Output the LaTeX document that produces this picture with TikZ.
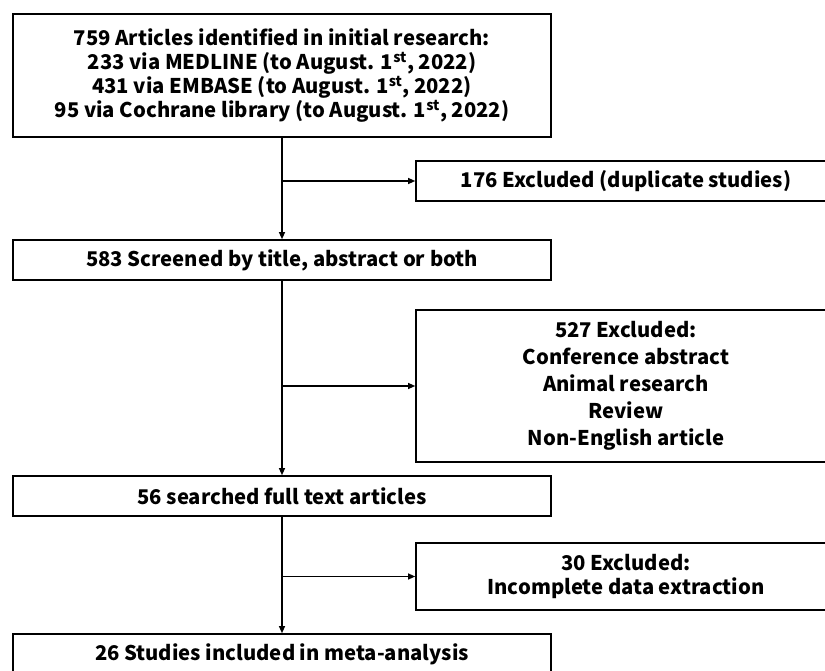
\documentclass[tikz,border=0pt]{standalone}
\usepackage{fontspec}
\newfontfamily\flowfont{Noto Sans CJK SC}
\usetikzlibrary{arrows.meta,positioning}

\begin{document}
\begin{tikzpicture}[
  box/.style={draw,line width=1.3pt,align=center,inner sep=0pt,
              font=\flowfont\bfseries\fontsize{17.3}{20.7}\selectfont},
  lbox/.style={box,minimum width=16.14cm},
  rbox/.style={box,minimum width=12.6cm},
  arr/.style={line width=1.2pt,-{Triangle[length=6pt,width=5pt]}},
]
\useasboundingbox (0,0) rectangle (24.75,-20.13);
\node[lbox,minimum height=3.69cm] (ident) at (8.46,-2.265)
  {759 Articles identified in initial research:\\
   233 via MEDLINE (to August. 1\textsuperscript{st}, 2022)\\
   431 via EMBASE (to August. 1\textsuperscript{st}, 2022)\\
   95 via Cochrane library (to August. 1\textsuperscript{st}, 2022)};
\node[rbox,minimum height=1.2cm] (dupl) at (18.78,-5.43)
  {176 Excluded (duplicate studies)};
\node[lbox,minimum height=1.2cm] (screen) at (8.46,-7.8)
  {583 Screened by title, abstract or both};
\node[rbox,minimum height=4.56cm,font=\flowfont\bfseries\fontsize{17.3}{23}\selectfont] (excl1) at (18.78,-11.58)
  {527 Excluded:\\Conference abstract\\Animal research\\Review\\Non-English article};
\node[lbox,minimum height=1.2cm] (full) at (8.46,-14.88)
  {56 searched full text articles};
\node[rbox,minimum height=2.01cm] (excl2) at (18.78,-17.295)
  {30 Excluded:\\Incomplete data extraction};
\node[lbox,minimum height=1.2cm] (incl) at (8.46,-19.62)
  {26 Studies included in meta-analysis};
% branch points on the main line
\coordinate (b1) at (ident.south |- dupl.west);
\coordinate (b2) at (ident.south |- excl1.west);
\coordinate (b3) at (ident.south |- excl2.west);
\draw[arr] (ident) -- (screen);
\draw[arr] (screen) -- (full);
\draw[arr] (full) -- (incl);
\draw[arr] (b1) -- (dupl);
\draw[arr] (b2) -- (excl1);
\draw[arr] (b3) -- (excl2);
\end{tikzpicture}
\end{document}
